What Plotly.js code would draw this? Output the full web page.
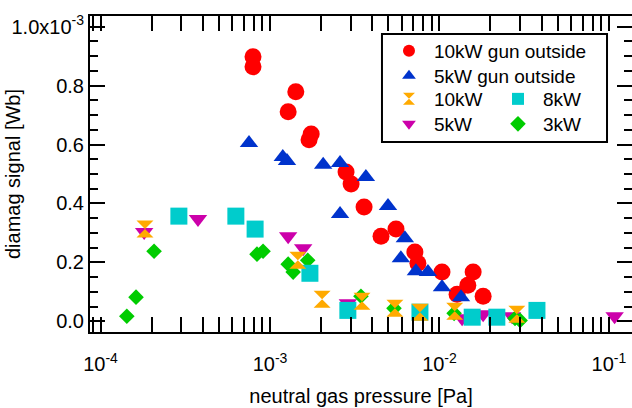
<!DOCTYPE html>
<html>
<head>
<meta charset="utf-8">
<script src="https://cdn.plot.ly/plotly-3.0.1.min.js"></script>
<style>html,body{margin:0;padding:0;overflow:hidden;background:#fff}#chart{width:632px;height:408px}</style>
</head>
<body>
<div id="chart"></div>
<script>
// ---- data (pressure in Pa, diamag signal in Wb) ----
const gun10kW_x = [7.94e-4, 7.94e-4, 1.42e-3, 1.28e-3, 1.75e-3, 1.70e-3, 2.81e-3, 3.01e-3, 3.59e-3, 4.52e-3, 5.54e-3, 7.16e-3, 7.46e-3, 1.035e-2, 1.58e-2, 1.47e-2, 1.81e-2, 1.27e-2];
const gun10kW_y = [0.898e-3, 0.864e-3, 0.779e-3, 0.711e-3, 0.636e-3, 0.616e-3, 0.507e-3, 0.466e-3, 0.388e-3, 0.289e-3, 0.313e-3, 0.235e-3, 0.197e-3, 0.167e-3, 0.167e-3, 0.122e-3, 0.085e-3, 0.092e-3];

const gun5kW_x = [7.52e-4, 1.19e-3, 1.26e-3, 2.06e-3, 2.59e-3, 3.68e-3, 2.59e-3, 4.97e-3, 6.25e-3, 5.92e-3, 7.26e-3, 8.55e-3, 1.035e-2, 1.34e-2];
const gun5kW_y = [0.605e-3, 0.558e-3, 0.544e-3, 0.531e-3, 0.537e-3, 0.490e-3, 0.364e-3, 0.391e-3, 0.282e-3, 0.214e-3, 0.170e-3, 0.167e-3, 0.116e-3, 0.082e-3];

const p10kW_x = [1.83e-4, 1.46e-3, 2.03e-3, 3.49e-3, 5.46e-3, 7.67e-3, 1.23e-2, 2.86e-2];
const p10kW_y = [0.313e-3, 0.207e-3, 0.075e-3, 0.068e-3, 0.044e-3, 0.031e-3, 0.034e-3, 0.024e-3];

const p8kW_x = [2.90e-4, 6.29e-4, 8.17e-4, 1.72e-3, 2.88e-3, 7.67e-3, 1.56e-2, 2.18e-2, 3.76e-2];
const p8kW_y = [0.357e-3, 0.357e-3, 0.313e-3, 0.163e-3, 0.037e-3, 0.031e-3, 0.014e-3, 0.014e-3, 0.037e-3];

const p5kW_x = [1.81e-4, 3.76e-4, 1.28e-3, 1.57e-3, 2.88e-3, 1.36e-2, 1.81e-2, 2.68e-2, 1.08e-1];
const p5kW_y = [0.303e-3, 0.347e-3, 0.289e-3, 0.248e-3, 0.061e-3, 0.010e-3, 0.024e-3, 0.017e-3, 0.017e-3];

const p3kW_x = [1.43e-4, 1.62e-4, 2.07e-4, 8.38e-4, 9.10e-4, 1.28e-3, 1.37e-3, 1.67e-3, 3.44e-3, 5.39e-3, 1.22e-2, 2.79e-2, 2.99e-2];
const p3kW_y = [0.017e-3, 0.082e-3, 0.238e-3, 0.228e-3, 0.238e-3, 0.194e-3, 0.167e-3, 0.207e-3, 0.085e-3, 0.044e-3, 0.027e-3, 0.010e-3, 0.003e-3];

const xTickVals = [1e-4, 1e-3, 1e-2, 1e-1];
const xTickText = ['10<sup>-4</sup>', '10<sup>-3</sup>', '10<sup>-2</sup>', '10<sup>-1</sup>'];
const yTickVals = [0, 0.2e-3, 0.4e-3, 0.6e-3, 0.8e-3, 1.0e-3];
const yTickText = ['0.0', '0.2', '0.4', '0.6', '0.8', '1.0x10<sup>-3</sup>'];

// minor ticks (axis configuration)
const xMinor = [];
for (let e = -5; e <= -1; e++) for (let m = 2; m <= 9; m++) xMinor.push(m * Math.pow(10, e));
const yMinor = [];
for (let k = -1; k <= 21; k++) yMinor.push(k * 0.05e-3);

const FONT = '"Liberation Sans", Arial, Helvetica, sans-serif';

function tr(name, x, y, color, symbol, size, legend) {
  return {
    type: 'scatter', mode: 'markers', name: name, x: x, y: y,
    marker: {color: color, symbol: symbol, size: size, line: {width: 0}},
    legend: legend, showlegend: true, cliponaxis: true, hoverinfo: 'x+y+name'
  };
}

const data = [
  tr('5kW', p5kW_x, p5kW_y, '#CC00AA', 'triangle-down', 16, 'legend4'),
  tr('3kW', p3kW_x, p3kW_y, '#00CC00', 'diamond', 12, 'legend6'),
  tr('8kW', p8kW_x, p8kW_y, '#00CCCC', 'square', 17, 'legend5'),
  tr('10kW', p10kW_x, p10kW_y, '#FFAA00', 'hourglass', 17, 'legend3'),
  tr('10kW gun outside', gun10kW_x, gun10kW_y, '#FF0000', 'circle', 17, 'legend'),
  tr('5kW gun outside', gun5kW_x, gun5kW_y, '#0033CC', 'triangle-up', 16, 'legend2'),
  // empty helper trace so that the overlay axis carrying the y title is drawn
  {type: 'scatter', mode: 'markers', x: [], y: [], yaxis: 'y2', showlegend: false, hoverinfo: 'skip'}
];

function lg(x, y) {
  return {x: x, y: y, xanchor: 'left', yanchor: 'middle', bgcolor: 'rgba(0,0,0,0)',
          borderwidth: 0, itemsizing: 'constant', itemwidth: 40,
          font: {family: FONT, size: 19, color: '#000'},
          itemclick: false, itemdoubleclick: false};
}

const axisCommon = {
  showline: true, linecolor: '#000', linewidth: 2, mirror: 'allticks',
  ticks: 'inside', ticklen: 15, tickwidth: 2, tickcolor: '#000',
  showgrid: false, zeroline: false,
  tickfont: {family: FONT, size: 20, color: '#000'}
};

const layout = {
  width: 632, height: 408,
  margin: {l: 90, r: 0, t: 16, b: 76, pad: 0},
  paper_bgcolor: '#fff', plot_bgcolor: '#fff',
  font: {family: FONT, size: 20, color: '#000'},
  xaxis: Object.assign({}, axisCommon, {
    type: 'log', range: [-4.062, -0.864],
    tickmode: 'array', tickvals: xTickVals, ticktext: xTickText,
    ticklabelstandoff: 13,
    minor: {tickmode: 'array', tickvals: xMinor, ticks: 'inside', ticklen: 8, tickwidth: 2, tickcolor: '#000', showgrid: false},
    title: {text: 'neutral gas pressure [Pa]', font: {family: FONT, size: 20, color: '#000'}, standoff: 15}
  }),
  yaxis: Object.assign({}, axisCommon, {
    range: [-0.0363e-3, 1.0363e-3],
    tickmode: 'array', tickvals: yTickVals, ticktext: yTickText,
    minor: {tickmode: 'array', tickvals: yMinor, ticks: 'inside', ticklen: 8, tickwidth: 2, tickcolor: '#000', showgrid: false}
  }),
  yaxis2: {
    overlaying: 'y', anchor: 'x', side: 'left',
    range: [-0.0363e-3, 1.0363e-3],
    showticklabels: false, ticks: '', showline: false, showgrid: false, zeroline: false,
    title: {text: 'diamag signal [Wb]', font: {family: FONT, size: 20, color: '#000'}, standoff: 63}
  },
  shapes: [{type: 'rect', xref: 'paper', yref: 'paper', x0: 0.5387, x1: 0.9539, y0: 0.6013, y1: 0.943,
            line: {color: '#000', width: 2}, fillcolor: 'rgba(0,0,0,0)', layer: 'above'}],
  legend:  lg(0.5424, 0.8894),
  legend2: lg(0.5424, 0.8103),
  legend3: lg(0.5424, 0.7373),
  legend4: lg(0.5424, 0.6582),
  legend5: lg(0.7435, 0.7373),
  legend6: lg(0.7435, 0.6582),
  showlegend: true
};

Plotly.newPlot('chart', data, layout, {displayModeBar: false, staticPlot: true});
</script>
</body>
</html>
